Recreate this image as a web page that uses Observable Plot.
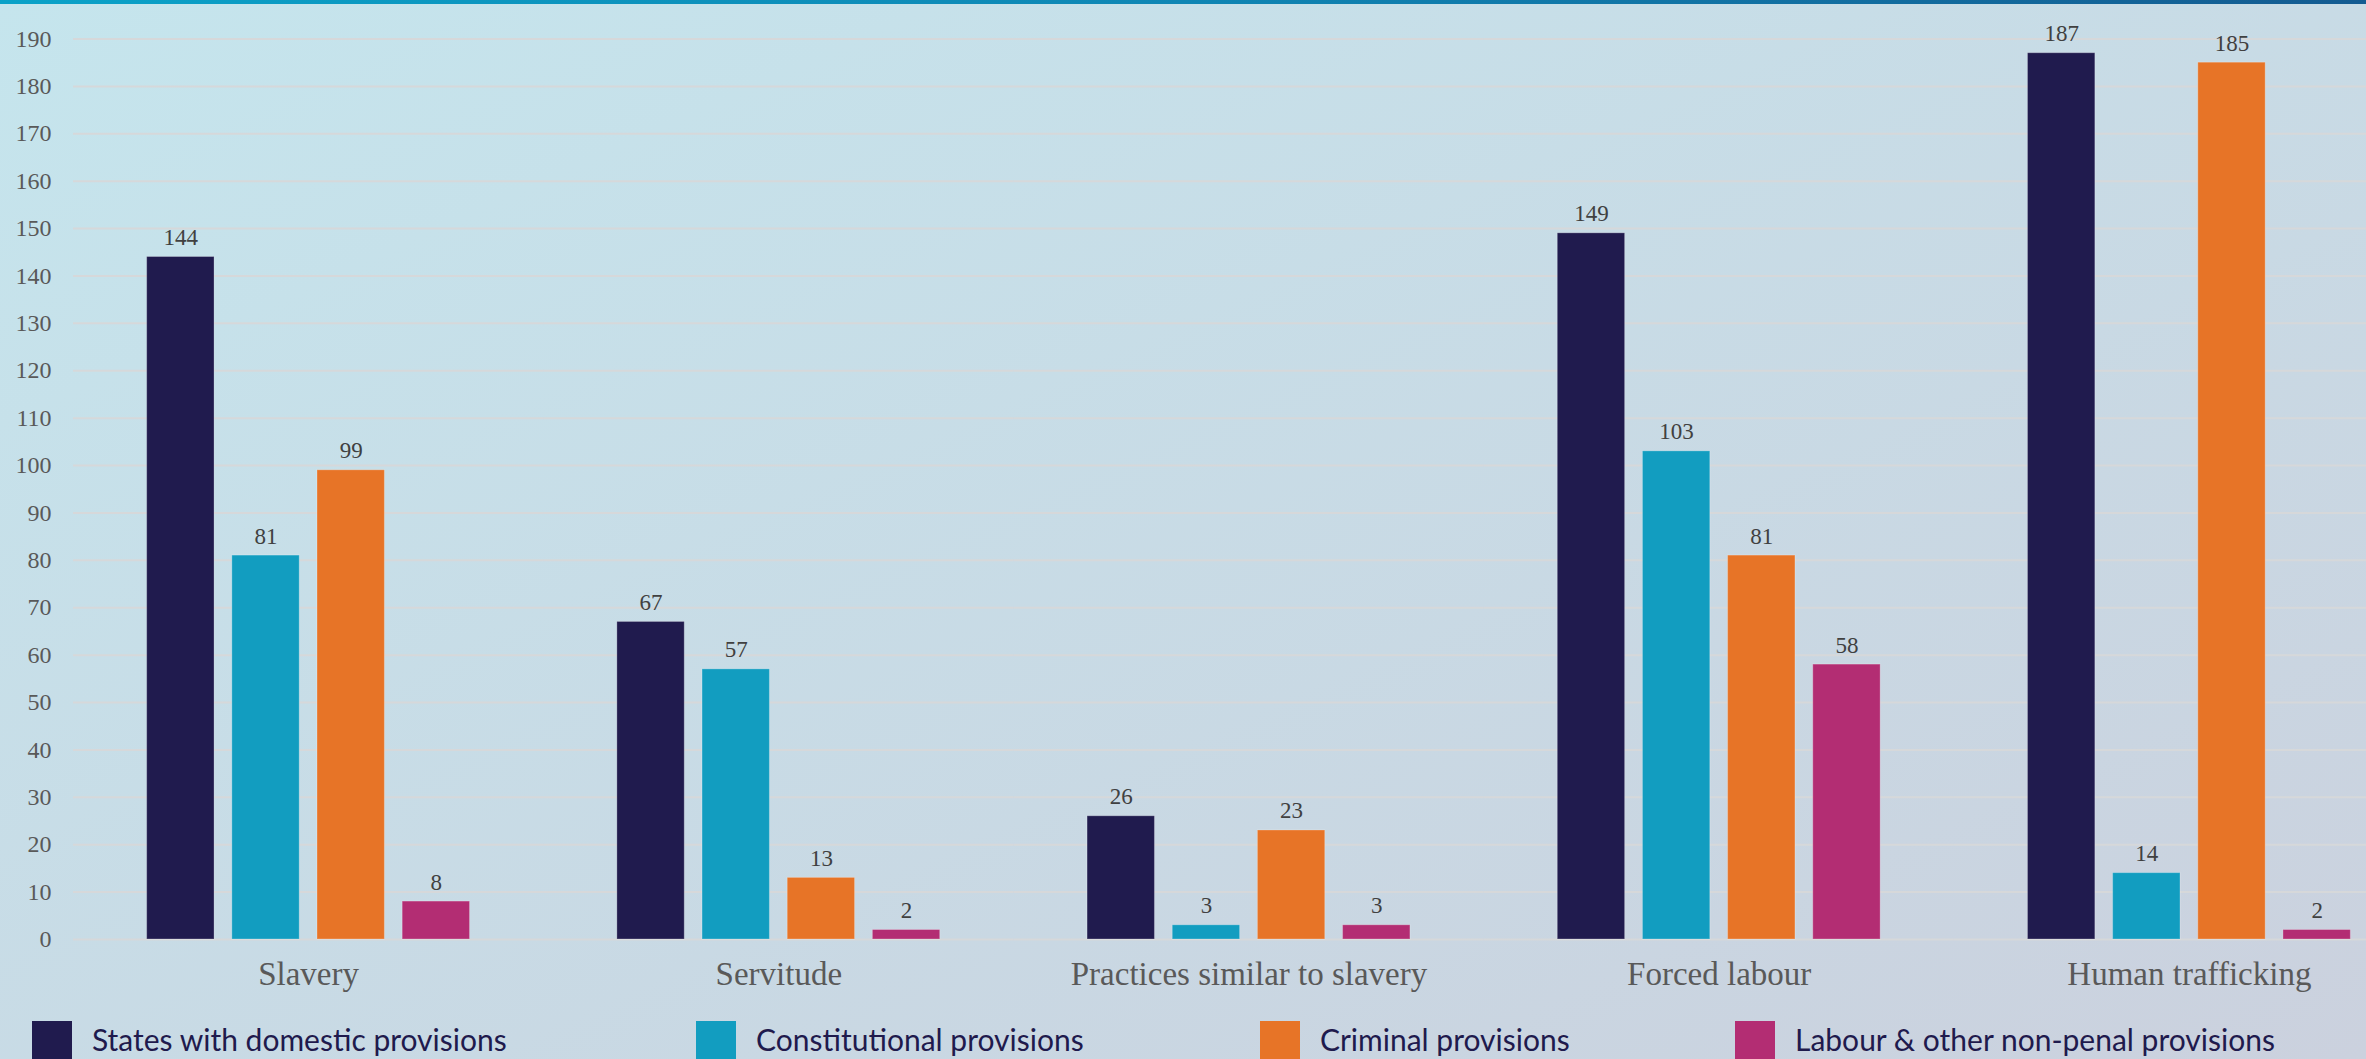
<!DOCTYPE html>
<html>
<head>
<meta charset="utf-8">
<script src="https://cdn.jsdelivr.net/npm/d3@7"></script>
<script src="https://cdn.jsdelivr.net/npm/@observablehq/plot@0.6"></script>
<style>
  html, body { margin: 0; padding: 0; }
  body {
    width: 2366px; height: 1059px; overflow: hidden; position: relative;
    background: linear-gradient(to bottom right, #c5e5ed, #cbd1de);
  }
  #topbar { position: absolute; left: 0; top: 0; width: 2366px; height: 4px;
    background: linear-gradient(to right, #0aa2c8, #0f86b4 50%, #145b91); z-index: 2; }
  #chart { position: absolute; left: 0; top: 0; width: 2366px; height: 1010px; overflow: hidden; }
  #chart svg { max-width: none !important; width: 2424px !important; height: 1010px !important; }
  #legend { position: absolute; left: 0; top: 1021px; width: 2366px; height: 40px; }
  .item { position: absolute; top: 0; display: flex; align-items: flex-start; }
  .sw { width: 40px; height: 40px; }
  .lab { margin-left: 20px; margin-top: 3px; font-family: Lato, "Open Sans", sans-serif;
    font-size: 30px; line-height: 30px; color: #1f1a4d; white-space: nowrap; }
</style>
</head>
<body>
<div id="topbar"></div>
<div id="chart"></div>
<div id="legend"></div>
<script>
const categories = ["Slavery", "Servitude", "Practices similar to slavery", "Forced labour", "Human trafficking"];
const series = ["States with domestic provisions", "Constitutional provisions", "Criminal provisions", "Labour & other non-penal provisions"];
const domestic = [144, 67, 26, 149, 187];
const constitutional = [81, 57, 3, 103, 14];
const criminal = [99, 13, 23, 81, 185];
const labour = [8, 2, 3, 58, 2];
const yTicks = [0, 10, 20, 30, 40, 50, 60, 70, 80, 90, 100, 110, 120, 130, 140, 150, 160, 170, 180, 190];
const colors = ["#201b4e", "#129dc0", "#e77427", "#b32d73"];

const seriesValues = [domestic, constitutional, criminal, labour];
const data = [];
categories.forEach((c, i) => {
  series.forEach((s, j) => data.push({category: c, series: s, value: seriesValues[j][i]}));
});

const plot = Plot.plot({
  width: 2424,
  height: 1010,
  marginLeft: 73,
  marginRight: 0,
  marginTop: 38.5,
  marginBottom: 71,
  style: {background: "transparent", fontFamily: "Liberation Serif, serif", maxWidth: "none"},
  fx: {domain: categories, padding: 0, label: null, round: false},
  x: {domain: series, paddingInner: 0.209, paddingOuter: 0.865, round: false, axis: null},
  y: {domain: [0, 190], label: null},
  color: {domain: series, range: colors},
  marks: [
    Plot.gridY({ticks: yTicks, stroke: "#d6d8da", strokeOpacity: 1, strokeWidth: 2}),
    Plot.axisY({ticks: yTicks, tickSize: 0, tickPadding: 22, fontSize: 24, color: "#595959", label: null}),
    Plot.axisFx({anchor: "bottom", tickSize: 0, tickPadding: 22, fontSize: 33, color: "#595959", label: null}),
    Plot.barY(data, {fx: "category", x: "series", y: "value", fill: "series",
      stroke: "white", strokeOpacity: 0.25, strokeWidth: 1}),
    Plot.text(data, {fx: "category", x: "series", y: "value", text: d => String(d.value),
      lineAnchor: "bottom", dy: -12, fontSize: 23, fill: "#404040"})
  ]
});
document.getElementById("chart").appendChild(plot);

const legendLeft = [32, 696, 1260, 1735];
const legend = document.getElementById("legend");
series.forEach((s, j) => {
  const it = document.createElement("div");
  it.className = "item";
  it.style.left = legendLeft[j] + "px";
  const sw = document.createElement("div");
  sw.className = "sw";
  sw.style.background = colors[j];
  const lab = document.createElement("div");
  lab.className = "lab";
  lab.textContent = s;
  it.appendChild(sw);
  it.appendChild(lab);
  legend.appendChild(it);
});
</script>
</body>
</html>
